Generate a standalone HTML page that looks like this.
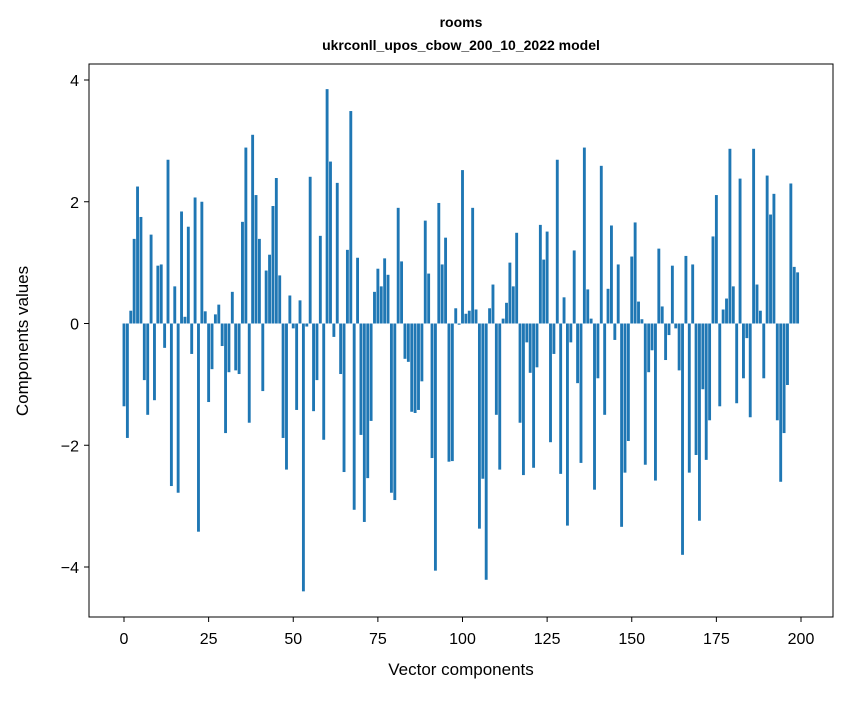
<!DOCTYPE html>
<html><head><meta charset="utf-8"><style>
body{margin:0;background:#fff;}
svg text{font-family:"Liberation Sans",sans-serif;fill:#000;}
</style></head><body>
<svg id="chart" width="847" height="696" xmlns="http://www.w3.org/2000/svg">
<rect x="0" y="0" width="847" height="696" fill="#fff"/>
<text x="461" y="27" font-size="14" font-weight="bold" text-anchor="middle">rooms</text>
<text x="461" y="50" font-size="14" font-weight="bold" text-anchor="middle">ukrconll_upos_cbow_200_10_2022 model</text>
<g id="bars"></g>
<g id="axes"></g>
<rect x="89" y="64" width="744" height="553" fill="none" stroke="#000" stroke-width="1"/>
<text x="461" y="675" font-size="17" text-anchor="middle">Vector components</text>
<text transform="translate(28,341) rotate(-90)" font-size="17" text-anchor="middle">Components values</text>
</svg>
<script>
const values = [-1.36,-1.88,0.21,1.39,2.25,1.75,-0.93,-1.5,1.46,-1.26,0.95,0.97,-0.4,2.69,-2.67,0.61,-2.78,1.84,0.11,1.59,
-0.5,2.07,-3.42,2.0,0.2,-1.29,-0.75,0.15,0.31,-0.37,-1.8,-0.8,0.52,-0.77,-0.83,1.67,2.89,-1.63,3.1,2.11,
1.39,-1.11,0.87,1.13,1.93,2.39,0.79,-1.88,-2.4,0.46,-0.08,-1.42,0.38,-4.4,-0.05,2.41,-1.44,-0.93,1.44,-1.91,
3.85,2.66,-0.22,2.31,-0.83,-2.44,1.21,3.49,-3.06,1.08,-1.83,-3.26,-2.54,-1.6,0.52,0.9,0.61,1.07,0.8,-2.78,
-2.9,1.9,1.02,-0.58,-0.63,-1.45,-1.47,-1.42,-0.95,1.69,0.82,-2.21,-4.06,1.98,0.97,1.41,-2.27,-2.26,0.25,-0.02,
2.52,0.16,0.21,1.9,0.23,-3.37,-2.55,-4.21,0.25,0.64,-1.5,-2.4,0.08,0.34,1.0,0.61,1.49,-1.63,-2.49,-0.31,
-0.81,-2.37,-0.72,1.62,1.05,1.51,-1.95,-0.5,2.69,-2.47,0.43,-3.32,-0.31,1.2,-0.98,-2.29,2.89,0.56,0.08,-2.73,
-0.9,2.59,-1.5,0.57,1.61,-0.27,0.97,-3.34,-2.45,-1.93,1.1,1.66,0.36,0.07,-2.32,-0.8,-0.44,-2.58,1.23,0.28,
-0.6,-0.19,0.95,-0.08,-0.77,-3.8,1.11,-2.45,0.97,-2.16,-3.24,-1.08,-2.24,-1.59,1.43,2.11,-1.36,0.23,0.41,2.87,
0.61,-1.31,2.38,-0.9,-0.24,-1.54,2.87,0.64,0.21,-0.9,2.43,1.79,2.13,-1.59,-2.6,-1.8,-1.01,2.3,0.93,0.84];
const xTicks = [0,25,50,75,100,125,150,175,200];
const yTicks = [-4,-2,0,2,4];
const yTickLabels = ["\u22124","\u22122","0","2","4"];
const NS="http://www.w3.org/2000/svg";
function xs(v){return 124+v*(801-124)/200;}
function ys(v){return 323.5-v*60.875;}
const bars=document.getElementById('bars');
values.forEach(function(v,i){
  const r=document.createElementNS(NS,'rect');
  
  
  const w=0.85*(801-124)/200;
  r.setAttribute('x',xs(i)-w/2);
  r.setAttribute('width',w);
  r.setAttribute('y',Math.min(ys(v),ys(0)));
  r.setAttribute('height',Math.abs(ys(v)-ys(0)));
  r.setAttribute('fill','#1f77b4');
  bars.appendChild(r);
});
const axes=document.getElementById('axes');
xTicks.forEach(function(t){
  const l=document.createElementNS(NS,'line');
  
  
  l.setAttribute('x1',xs(t));l.setAttribute('x2',xs(t));
  l.setAttribute('y1',617);l.setAttribute('y2',622);
  l.setAttribute('stroke','#000');
  axes.appendChild(l);
  const tx=document.createElementNS(NS,'text');
  
  
  tx.setAttribute('x',xs(t));tx.setAttribute('y',644);
  tx.setAttribute('font-size','16');tx.setAttribute('text-anchor','middle');
  tx.textContent=String(t);
  axes.appendChild(tx);
});
yTicks.forEach(function(t,k){
  const l=document.createElementNS(NS,'line');
  
  
  l.setAttribute('x1',84);l.setAttribute('x2',89);
  l.setAttribute('y1',ys(t));l.setAttribute('y2',ys(t));
  l.setAttribute('stroke','#000');
  axes.appendChild(l);
  const tx=document.createElementNS(NS,'text');
  
  
  tx.setAttribute('x',79);tx.setAttribute('y',ys(t)+6);
  tx.setAttribute('font-size','16');tx.setAttribute('text-anchor','end');
  tx.textContent=yTickLabels[k];
  axes.appendChild(tx);
});
</script>
</body></html>
